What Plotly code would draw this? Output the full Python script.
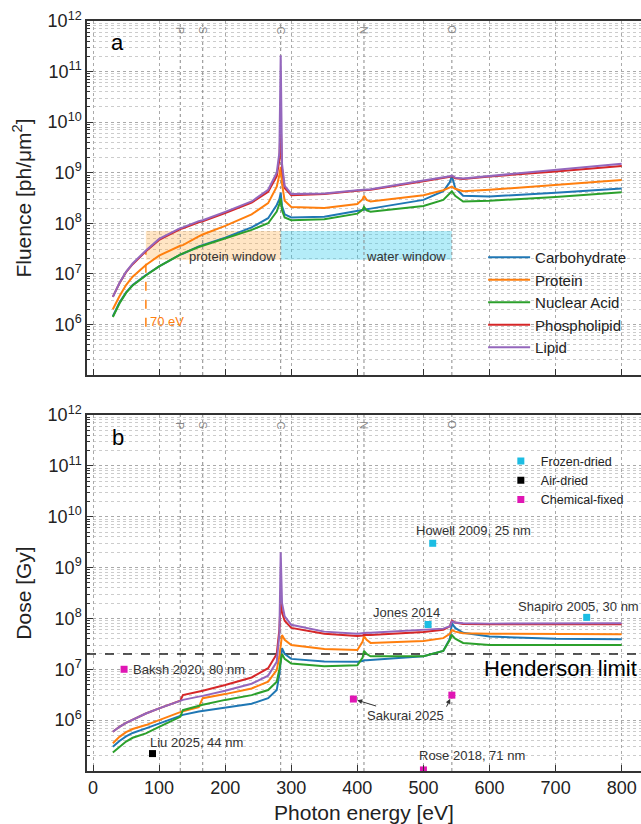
import numpy as np
import plotly.graph_objects as go

# ---------------- data ----------------
energy = [30, 40, 50, 60, 80, 100, 132, 136, 160, 166, 200, 240, 265, 278, 282, 284, 286, 290,
          300, 350, 400, 408, 410, 414, 420, 500, 530, 540, 543, 548, 560, 600, 700, 800]

series_names = ["Carbohydrate", "Protein", "Nuclear Acid", "Phospholipid", "Lipid"]
series_colors = ["#1f77b4", "#ff7f0e", "#2ca02c", "#d62728", "#9467bd"]

# Fluence [ph/um^2]
carb_f = [1.45e6, 2.7e6, 4.3e6, 6.0e6, 9.5e6, 1.4e7, 2.4e7, 2.5e7, 3.5e7, 3.7e7, 5.2e7, 8.3e7,
          1.26e8, 2.3e8, 3.0e8, 4.0e8, 2.2e8, 1.5e8, 1.3e8, 1.35e8, 1.8e8, 1.85e8, 1.88e8, 1.9e8,
          1.95e8, 2.9e8, 4.3e8, 6.5e8, 8.7e8, 5.0e8, 3.5e8, 3.4e8, 4.0e8, 4.9e8]
protein_f = [2.0e6, 3.6e6, 6.0e6, 8.8e6, 1.5e7, 2.3e7, 3.6e7, 3.7e7, 5.5e7, 6.0e7, 8.9e7, 1.5e8,
             2.5e8, 5.3e8, 9.0e8, 1.3e9, 6.0e8, 2.8e8, 2.1e8, 2.0e8, 2.4e8, 3.0e8, 3.5e8, 2.9e8,
             2.7e8, 3.6e8, 4.5e8, 5.2e8, 5.3e8, 4.8e8, 4.3e8, 4.6e8, 5.8e8, 7.2e8]
nucleic_f = [1.4e6, 2.6e6, 4.2e6, 5.9e6, 9.3e6, 1.4e7, 2.4e7, 2.55e7, 3.4e7, 3.6e7, 4.9e7, 7.4e7,
             1.0e8, 1.7e8, 2.4e8, 3.1e8, 1.8e8, 1.3e8, 1.15e8, 1.2e8, 1.55e8, 1.85e8, 2.1e8, 1.8e8,
             1.7e8, 2.2e8, 2.9e8, 3.8e8, 4.3e8, 3.5e8, 2.7e8, 2.8e8, 3.3e8, 4.1e8]
phospho_f = [3.5e6, 6.5e6, 1.08e7, 1.55e7, 2.8e7, 4.7e7, 7.7e7, 8.0e7, 1.05e8, 1.1e8, 1.6e8, 2.55e8,
             4.2e8, 8.5e8, 1.8e9, 1.0e10, 1.2e9, 5.0e8, 3.6e8, 3.8e8, 4.4e8, 4.5e8, 4.6e8, 4.55e8,
             4.6e8, 6.8e8, 7.8e8, 8.3e8, 8.6e8, 7.8e8, 7.5e8, 8.4e8, 1.06e9, 1.35e9]
lipid_f = [3.5e6, 6.6e6, 1.1e7, 1.6e7, 2.9e7, 4.9e7, 8.0e7, 8.3e7, 1.1e8, 1.15e8, 1.68e8, 2.7e8,
           4.6e8, 1.0e9, 2.5e9, 2.1e11, 1.5e9, 5.5e8, 3.8e8, 3.9e8, 4.5e8, 4.6e8, 4.7e8, 4.65e8,
           4.7e8, 7.0e8, 8.0e8, 8.5e8, 8.8e8, 8.0e8, 7.7e8, 8.6e8, 1.12e9, 1.5e9]

# Dose [Gy]
carb_d = [3.0e5, 3.9e5, 4.8e5, 5.6e5, 6.9e5, 8.6e5, 1.22e6, 1.27e6, 1.48e6, 1.52e6, 1.8e6, 2.1e6,
          2.7e6, 3.9e6, 8.0e6, 1.8e7, 2.6e7, 2.0e7, 1.6e7, 1.42e7, 1.4e7, 1.45e7, 1.5e7, 1.5e7,
          1.52e7, 1.8e7, 2.3e7, 4.0e7, 8.0e7, 6.5e7, 5.2e7, 4.4e7, 4.0e7, 3.9e7]
protein_d = [3.5e5, 4.7e5, 5.8e5, 6.7e5, 8.0e5, 1.0e6, 1.45e6, 1.5e6, 1.8e6, 2.7e6, 3.25e6, 4.2e6,
             5.7e6, 9.6e6, 1.8e7, 3.5e7, 4.7e7, 3.8e7, 3.0e7, 2.5e7, 2.4e7, 3.5e7, 4.5e7, 3.8e7,
             3.3e7, 3.6e7, 4.1e7, 5.0e7, 5.9e7, 5.5e7, 5.1e7, 5.0e7, 4.9e7, 4.9e7]
nucleic_d = [2.3e5, 3.0e5, 3.8e5, 4.5e5, 5.5e5, 7.4e5, 1.16e6, 1.57e6, 1.9e6, 2.0e6, 2.5e6, 3.1e6,
             3.9e6, 5.7e6, 1.0e7, 1.6e7, 2.0e7, 1.6e7, 1.3e7, 1.15e7, 1.2e7, 1.7e7, 2.3e7, 2.0e7,
             1.8e7, 1.8e7, 2.3e7, 3.8e7, 4.7e7, 4.0e7, 3.3e7, 3.0e7, 3.0e7, 3.0e7]
phospho_d = [5.9e5, 7.4e5, 8.8e5, 1.02e6, 1.35e6, 1.7e6, 2.4e6, 3.1e6, 3.6e6, 3.8e6, 4.9e6, 6.9e6,
             1.05e7, 2.0e7, 6.0e7, 2.5e8, 1.3e8, 9.0e7, 6.5e7, 5.0e7, 4.5e7, 4.6e7, 4.8e7, 4.7e7,
             4.7e7, 5.4e7, 6.0e7, 7.0e7, 9.0e7, 8.3e7, 7.8e7, 7.7e7, 7.7e7, 7.7e7]
lipid_d = [5.9e5, 7.4e5, 8.8e5, 1.02e6, 1.35e6, 1.7e6, 2.4e6, 2.5e6, 2.9e6, 3.0e6, 3.8e6, 5.2e6,
           7.5e6, 1.4e7, 5.0e7, 2.0e9, 2.0e8, 1.1e8, 7.5e7, 5.5e7, 5.0e7, 5.1e7, 5.3e7, 5.2e7,
           5.2e7, 5.9e7, 6.3e7, 7.0e7, 8.7e7, 8.3e7, 8.0e7, 7.9e7, 7.9e7, 8.0e7]

fluence = [carb_f, protein_f, nucleic_f, phospho_f, lipid_f]
dose = [carb_d, protein_d, nucleic_d, phospho_d, lipid_d]

# Absorption edges
edge_labels = ["P", "S", "C", "N", "O"]
edge_energy = [132, 166, 284, 410, 543]

# Windows (energy range, fluence range)
protein_window_x = [80, 284]
water_window_x = [284, 543]
window_y = [1.9e7, 7.0e7]
cutoff_energy = 80
cutoff_y = [9e5, 2.7e7]

henderson_limit = 2e7

# Experimental doses
frozen_x = [514, 507, 747]
frozen_y = [3.0e9, 7.6e7, 1.05e8]
air_x = [90]
air_y = [2.2e5]
chem_x = [47, 394, 543, 500]
chem_y = [1.0e7, 2.6e6, 3.1e6, 1.05e5]

point_labels = ["Howell 2009, 25 nm", "Jones 2014", "Shapiro 2005, 30 nm", "Liu 2025, 44 nm",
                "Baksh 2020, 80 nm", "Sakurai 2025", "Rose 2018, 71 nm"]
label_x = [575, 475, 734, 157, 58, 472, 573]
label_y = [5.25e9, 1.3e8, 1.75e8, 3.7e5, 1.0e7, 1.26e6, 2.05e5]
label_anchor = ["center", "center", "center", "center", "left", "center", "center"]

CYAN = "#1cbde3"
MAGENTA = "#e016b4"
FONT = "Liberation Sans, Arial, sans-serif"
X_RANGE = [-9.1, 829.2]

# ---------------- figure ----------------
fig = go.Figure()

# windows
fig.add_trace(go.Scatter(
    x=[protein_window_x[0], protein_window_x[1], protein_window_x[1], protein_window_x[0], protein_window_x[0]],
    y=[window_y[0], window_y[0], window_y[1], window_y[1], window_y[0]],
    fill="toself", fillcolor="rgba(255,170,60,0.30)", line=dict(width=0),
    mode="lines", showlegend=False, hoverinfo="skip", xaxis="x", yaxis="y"))
fig.add_trace(go.Scatter(
    x=[water_window_x[0], water_window_x[1], water_window_x[1], water_window_x[0], water_window_x[0]],
    y=[window_y[0], window_y[0], window_y[1], window_y[1], window_y[0]],
    fill="toself", fillcolor="rgba(40,200,235,0.35)", line=dict(width=0),
    mode="lines", showlegend=False, hoverinfo="skip", xaxis="x", yaxis="y"))

# edge lines in both panels
for e in edge_energy:
    for xa, ya in (("x", "y"), ("x2", "y2")):
        fig.add_trace(go.Scatter(x=[e, e], y=[1e5, 1e12], mode="lines",
                                 line=dict(color="#888888", width=1, dash="dot"),
                                 showlegend=False, hoverinfo="skip", xaxis=xa, yaxis=ya))

# 70 eV cutoff line
fig.add_trace(go.Scatter(x=[cutoff_energy, cutoff_energy], y=cutoff_y, mode="lines",
                         line=dict(color="#ff7f0e", width=1.5, dash="dash"),
                         showlegend=False, hoverinfo="skip", xaxis="x", yaxis="y"))

# Henderson limit
fig.add_trace(go.Scatter(x=X_RANGE, y=[henderson_limit, henderson_limit], mode="lines",
                         line=dict(color="#222222", width=1.5, dash="dash"),
                         showlegend=False, hoverinfo="skip", xaxis="x2", yaxis="y2"))

# curves
for name, col, f, d in zip(series_names, series_colors, fluence, dose):
    fig.add_trace(go.Scatter(x=energy, y=f, mode="lines", name=name,
                             line=dict(color=col, width=2), xaxis="x", yaxis="y", legend="legend"))
    fig.add_trace(go.Scatter(x=energy, y=d, mode="lines", name=name, showlegend=False,
                             line=dict(color=col, width=2), xaxis="x2", yaxis="y2"))

# experimental points
fig.add_trace(go.Scatter(x=frozen_x, y=frozen_y, mode="markers", name="Frozen-dried",
                         marker=dict(symbol="square", size=7, color=CYAN),
                         xaxis="x2", yaxis="y2", legend="legend2"))
fig.add_trace(go.Scatter(x=air_x, y=air_y, mode="markers", name="Air-dried",
                         marker=dict(symbol="square", size=7, color="black"),
                         xaxis="x2", yaxis="y2", legend="legend2"))
fig.add_trace(go.Scatter(x=chem_x, y=chem_y, mode="markers", name="Chemical-fixed",
                         marker=dict(symbol="square", size=7, color=MAGENTA),
                         xaxis="x2", yaxis="y2", legend="legend2"))

# ---------------- annotations ----------------
ann = []
lg = np.log10

for lab, e in zip(edge_labels, edge_energy):
    ann.append(dict(x=e, y=11.82, xref="x", yref="y", text=lab, showarrow=False, textangle=90,
                    font=dict(size=11, color="#888888", family=FONT)))
    ann.append(dict(x=e, y=11.80, xref="x2", yref="y2", text=lab, showarrow=False, textangle=90,
                    font=dict(size=11, color="#888888", family=FONT)))

ann.append(dict(x=37.8, y=11.57, xref="x", yref="y", text="a", showarrow=False,
                font=dict(size=22, color="black", family=FONT)))
ann.append(dict(x=37.8, y=11.55, xref="x2", yref="y2", text="b", showarrow=False,
                font=dict(size=22, color="black", family=FONT)))

ann.append(dict(x=280, y=lg(2.2e7), xref="x", yref="y", text="protein window", showarrow=False,
                xanchor="right", font=dict(size=13, color="#333333", family=FONT)))
ann.append(dict(x=537, y=lg(2.2e7), xref="x", yref="y", text="water window", showarrow=False,
                xanchor="right", font=dict(size=13, color="#333333", family=FONT)))
ann.append(dict(x=cutoff_energy + 3, y=lg(1.12e6), xref="x", yref="y", text="70 eV", showarrow=False,
                xanchor="left", font=dict(size=13, color="#ff7f0e", family=FONT)))

ann.append(dict(x=X_RANGE[1] - 3, y=lg(1.05e7), xref="x2", yref="y2", text="Henderson limit",
                showarrow=False, xanchor="right", font=dict(size=22, color="black", family=FONT)))

for lab, lx, ly, anc in zip(point_labels, label_x, label_y, label_anchor):
    if lab == "Sakurai 2025":
        continue
    ann.append(dict(x=lx, y=lg(ly), xref="x2", yref="y2", text=lab, showarrow=False, xanchor=anc,
                    font=dict(size=13, color="#333333", family=FONT)))

# Sakurai label with arrows to its two points
ann.append(dict(x=chem_x[1], y=lg(chem_y[1]), xref="x2", yref="y2", text="Sakurai 2025",
                showarrow=True, ax=52, ay=16, arrowhead=2, arrowsize=1, arrowwidth=1,
                arrowcolor="#333333", standoff=4,
                font=dict(size=13, color="#333333", family=FONT)))
ann.append(dict(x=chem_x[2], y=lg(chem_y[2]), xref="x2", yref="y2", text="",
                showarrow=True, ax=-6, ay=13, arrowhead=2, arrowsize=1, arrowwidth=1,
                arrowcolor="#333333", standoff=4))

# ---------------- axes ----------------
decades = [1e6, 1e7, 1e8, 1e9, 1e10, 1e11, 1e12]
dec_text = ["10<sup>%d</sup>" % int(round(np.log10(v))) for v in decades]
minor_vals = [k * 10.0 ** n for n in range(5, 12) for k in range(2, 10)]

yaxis_common = dict(
    type="log", range=[5, 12], tickmode="array", tickvals=decades, ticktext=dec_text,
    ticks="inside", ticklen=6, tickcolor="#333333",
    tickfont=dict(size=18, color="#222222", family=FONT),
    showline=True, linecolor="#333333", linewidth=1.5, mirror=False,
    showgrid=True, gridcolor="#aaaaaa", griddash="dot", gridwidth=1,
    minor=dict(tickmode="array", tickvals=minor_vals, ticks="inside", ticklen=3, tickcolor="#333333",
               showgrid=True, gridcolor="#cccccc", griddash="dot", gridwidth=1),
    zeroline=False,
)
xaxis_common = dict(
    range=X_RANGE, tickmode="linear", tick0=0, dtick=100,
    ticks="inside", ticklen=6, tickcolor="#333333",
    showline=True, linecolor="#333333", linewidth=1.5, mirror=True,
    showgrid=True, gridcolor="#aaaaaa", griddash="dot", gridwidth=1, zeroline=False,
)

fig.update_layout(
    width=641, height=824,
    margin=dict(l=87, r=0, t=21, b=53),
    paper_bgcolor="white", plot_bgcolor="white",
    font=dict(family=FONT, color="#222222"),
    xaxis=dict(domain=[0, 1], anchor="y", showticklabels=False, **xaxis_common),
    yaxis=dict(domain=[0.528, 1.0], anchor="x",
               title=dict(text="Fluence [ph/μm<sup>2</sup>]", font=dict(size=21, family=FONT), standoff=10),
               **yaxis_common),
    xaxis2=dict(domain=[0, 1], anchor="y2", showticklabels=True,
                tickfont=dict(size=18, color="#222222", family=FONT),
                title=dict(text="Photon energy [eV]", font=dict(size=21, family=FONT), standoff=10),
                **xaxis_common),
    yaxis2=dict(domain=[0.0, 0.4747], anchor="x2",
                title=dict(text="Dose [Gy]", font=dict(size=21, family=FONT), standoff=10),
                **yaxis_common),
    legend=dict(x=0.715, y=0.7067, xanchor="left", yanchor="top", bgcolor="rgba(0,0,0,0)",
                font=dict(size=15, color="#222222", family=FONT), itemwidth=42, tracegroupgap=0),
    legend2=dict(x=0.747, y=0.433, xanchor="left", yanchor="top", bgcolor="rgba(0,0,0,0)",
                 font=dict(size=12.5, color="#222222", family=FONT), itemwidth=30),
    annotations=ann,
    showlegend=True,
)

fig.write_html(
    "out.html",
    config={"displayModeBar": False},
    post_script="document.documentElement.style.overflow='hidden';"
                "document.body.style.margin='0';document.body.style.overflow='hidden';",
)
